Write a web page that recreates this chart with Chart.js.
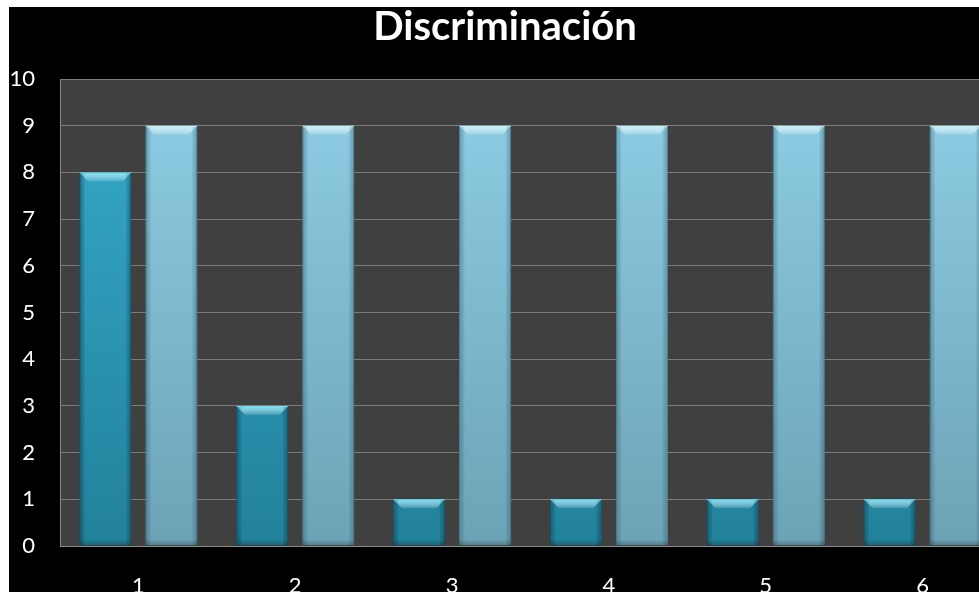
<!DOCTYPE html>
<html>
<head>
<meta charset="utf-8">
<script src="https://cdn.jsdelivr.net/npm/chart.js@4"></script>
<style>
  html, body { margin: 0; padding: 0; background: #ffffff; overflow: hidden; }
  #wrap { position: absolute; left: 9px; top: 7px; width: 1000px; height: 620px; background: #000000; }
</style>
</head>
<body>
<div id="wrap"><canvas id="chart"></canvas></div>
<script>
// datos
const categorias = ["1", "2", "3", "4", "5", "6"];
const serieOscura = [8, 3, 1, 1, 1, 1];
const serieClara = [9, 9, 9, 9, 9, 9];
const ticksY = [0, 1, 2, 3, 4, 5, 6, 7, 8, 9, 10];

const fuente = "Lato, 'Open Sans', sans-serif";

// gradiente vertical para cada serie
function degradado(ctx, arriba, abajo) {
    const area = ctx.chart.chartArea;
    if (!area) return arriba;
    const g = ctx.chart.ctx.createLinearGradient(0, area.top, 0, area.bottom);
    g.addColorStop(0, arriba);
    g.addColorStop(1, abajo);
    return g;
}

// fondo gris del area de trazado
const fondoArea = {
    id: "fondoArea",
    beforeDraw(chart) {
        const { ctx, chartArea } = chart;
        ctx.save();
        ctx.fillStyle = "#404040";
        ctx.fillRect(chartArea.left, chartArea.top, chartArea.right - chartArea.left, chartArea.bottom - chartArea.top);
        ctx.restore();
    }
};

// biselado de las barras (tapa superior clara y bordes laterales)
const bisel = {
    id: "bisel",
    afterDatasetsDraw(chart) {
        const ctx = chart.ctx;
        const tapas = ["#72e2f8", "#c9f4fc"];
        const lados = ["rgba(10,60,80,0.45)", "rgba(40,90,110,0.35)"];
        chart.data.datasets.forEach((ds, i) => {
            chart.getDatasetMeta(i).data.forEach((bar) => {
                const w = bar.width;
                const l = bar.x - w / 2, r = bar.x + w / 2;
                const t = bar.y, b = bar.base;
                const h = 9;
                ctx.save();
                // tapa
                ctx.beginPath();
                ctx.moveTo(l, t);
                ctx.lineTo(r, t);
                ctx.lineTo(r - h, t + h);
                ctx.lineTo(l + h, t + h);
                ctx.closePath();
                const g = ctx.createLinearGradient(0, t, 0, t + h);
                g.addColorStop(0, tapas[i]);
                g.addColorStop(1, "rgba(255,255,255,0.12)");
                ctx.fillStyle = g;
                ctx.fill();
                // lados
                const gl = ctx.createLinearGradient(l, 0, l + 6, 0);
                gl.addColorStop(0, lados[i]);
                gl.addColorStop(1, "rgba(0,0,0,0)");
                ctx.fillStyle = gl;
                ctx.fillRect(l, t + 1, 6, b - t - 1);
                const gr = ctx.createLinearGradient(r, 0, r - 6, 0);
                gr.addColorStop(0, lados[i]);
                gr.addColorStop(1, "rgba(0,0,0,0)");
                ctx.fillStyle = gr;
                ctx.fillRect(r - 6, t + 1, 6, b - t - 1);
                // base
                const gb = ctx.createLinearGradient(0, b, 0, b - 6);
                gb.addColorStop(0, "rgba(0,0,0,0.25)");
                gb.addColorStop(1, "rgba(0,0,0,0)");
                ctx.fillStyle = gb;
                ctx.fillRect(l, b - 6, w, 6);
                ctx.restore();
            });
        });
    }
};

const canvas = document.getElementById("chart");
canvas.width = 1000;
canvas.height = 620;

new Chart(canvas, {
    type: "bar",
    data: {
        labels: categorias,
        datasets: [
            {
                label: "Serie 1",
                data: serieOscura,
                backgroundColor: (c) => degradado(c, "#36abcc", "#22819b"),
                borderColor: "#1c6e85",
                borderWidth: 1,
                barPercentage: 0.79,
                categoryPercentage: 0.842
            },
            {
                label: "Serie 2",
                data: serieClara,
                backgroundColor: (c) => degradado(c, "#8fcfe6", "#6ca3b6"),
                borderColor: "#5f95a8",
                borderWidth: 1,
                barPercentage: 0.79,
                categoryPercentage: 0.842
            }
        ]
    },
    options: {
        responsive: false,
        animation: false,
        layout: { padding: { left: 0, right: 8, top: 0, bottom: 0 } },
        plugins: {
            legend: { display: false },
            tooltip: { enabled: false },
            title: {
                display: true,
                text: "Discriminación",
                color: "#ffffff",
                font: { family: fuente, size: 40, weight: "bold", lineHeight: 1.0 },
                padding: { top: 0, bottom: 32 }
            }
        },
        scales: {
            x: {
                grid: { display: false, drawTicks: false },
                border: { display: true, color: "#8a8a8a", width: 1 },
                ticks: { color: "#ffffff", font: { family: fuente, size: 22 }, padding: 27 },
                afterFit(scale) { scale.height = 81; }
            },
            y: {
                min: 0,
                max: 10,
                afterBuildTicks(scale) { scale.ticks = ticksY.map((v) => ({ value: v })); },
                grid: { color: "#7c7c7c", lineWidth: 1, drawTicks: false },
                border: { display: true, color: "#8a8a8a", width: 1 },
                ticks: { color: "#ffffff", font: { family: fuente, size: 22 }, padding: 25 },
                afterFit(scale) { scale.width = 51; }
            }
        }
    },
    plugins: [fondoArea, bisel]
});
</script>
</body>
</html>
